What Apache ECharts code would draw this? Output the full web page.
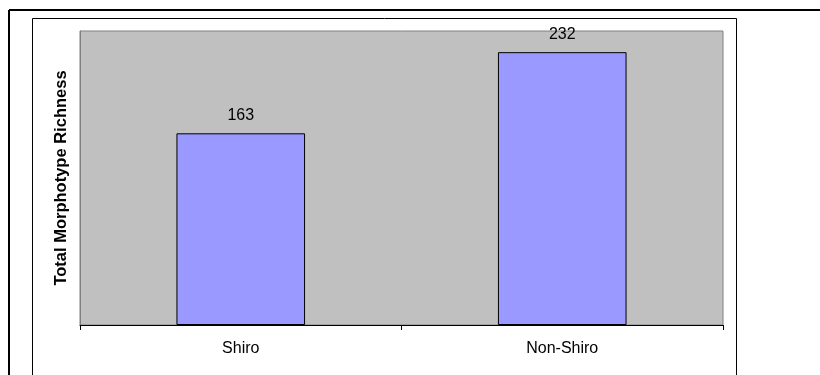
<!DOCTYPE html>
<html>
<head>
<meta charset="utf-8">
<script src="https://cdn.jsdelivr.net/npm/echarts@6/dist/echarts.min.js"></script>
<style>
  html, body { margin: 0; padding: 0; background: #fff; }
  #chart { width: 820px; height: 375px; }
</style>
</head>
<body>
<div id="chart"></div>
<script>
// data
const categories = ['Shiro', 'Non-Shiro']
const richness = [163, 232]
const yName = 'Total Morphotype Richness'

const chart = echarts.init(document.getElementById('chart'))

const option = {
  animation: false,
  textStyle: {fontFamily: 'Liberation Sans, Arial, sans-serif'},
  grid: {
    left: 80, right: 97, top: 31, bottom: 50,
    show: true,
    backgroundColor: '#c0c0c0',
    borderColor: '#808080',
    borderWidth: 1,
  },
  xAxis: {
    type: 'category',
    data: categories,
    axisLine: {lineStyle: {color: '#000', width: 1}},
    axisTick: {show: true, length: 5, alignWithLabel: false, lineStyle: {color: '#000'}},
    axisLabel: {color: '#000', fontSize: 16, margin: 16},
  },
  yAxis: {
    type: 'value',
    min: 0,
    max: 250,
    name: yName,
    nameLocation: 'middle',
    nameGap: 10,
    nameTextStyle: {color: '#000', fontSize: 16.5, fontWeight: 'bold'},
    axisLine: {show: true, lineStyle: {color: '#808080'}},
    axisTick: {show: false},
    axisLabel: {show: false},
    splitLine: {show: false},
  },
  series: [{
    type: 'bar',
    data: richness,
    barWidth: '40%',
    itemStyle: {color: '#9999ff', borderColor: '#000', borderWidth: 1},
    label: {show: true, position: 'top', distance: 10, color: '#000', fontSize: 16},
  }],
  // frame lines around the chart
  graphic: [
    {type: 'line', shape: {x1: 9, y1: 10, x2: 820, y2: 10}, style: {stroke: '#000', lineWidth: 2}},
    {type: 'line', shape: {x1: 9, y1: 10, x2: 9, y2: 375}, style: {stroke: '#000', lineWidth: 2}},
    {type: 'rect', shape: {x: 32.5, y: 18.5, width: 704, height: 400}, style: {stroke: '#000', fill: null, lineWidth: 1}},
  ],
}

chart.setOption(option)
window.addEventListener('resize', () => chart.resize())
</script>
</body>
</html>
